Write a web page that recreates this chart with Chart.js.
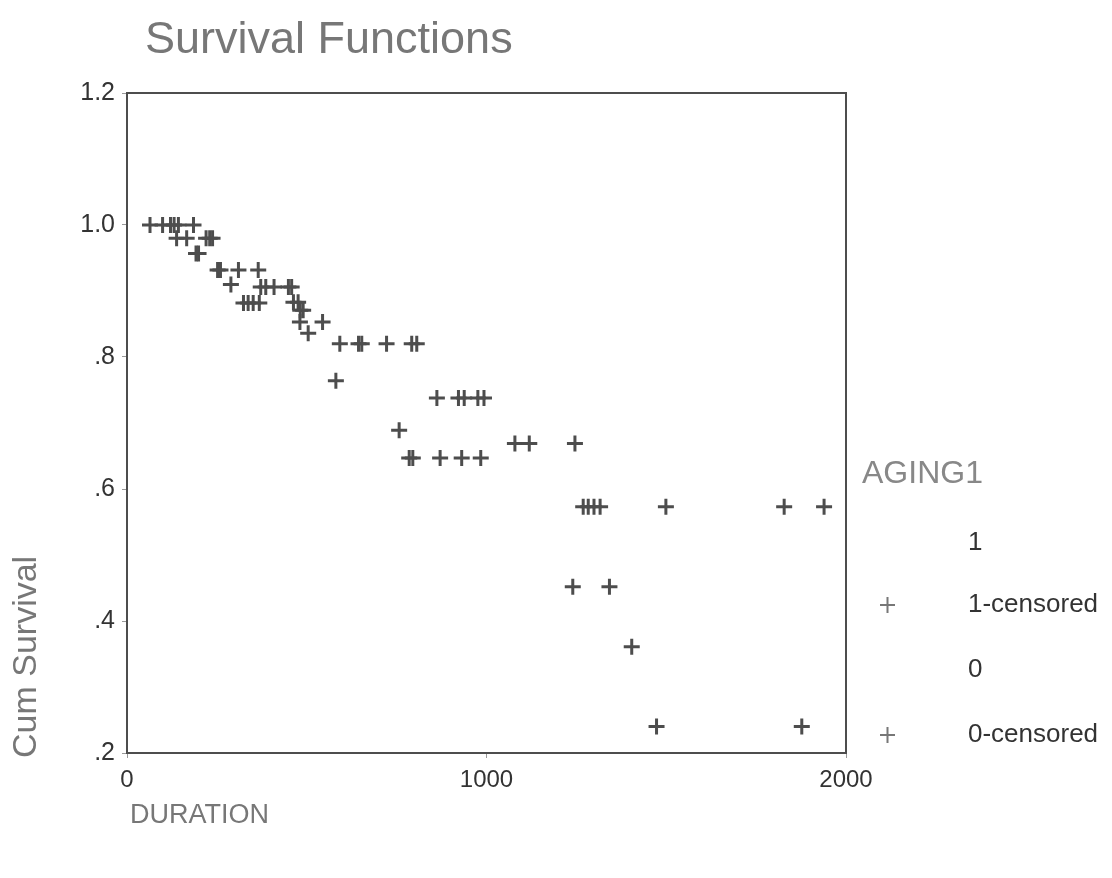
<!DOCTYPE html>
<html>
<head>
<meta charset="utf-8">
<script src="https://cdn.jsdelivr.net/npm/chart.js@4.4.1/dist/chart.umd.min.js"></script>
<style>
  html, body { margin: 0; padding: 0; background: #fff; }
  #wrap { width: 1112px; height: 878px; position: relative; }
</style>
</head>
<body>
<div id="wrap"><canvas id="grafico" width="1112" height="878"></canvas></div>
<script>
// censored observations, AGING1 = 1
const cens1Dur = [64, 99, 121, 131, 143, 185, 138, 166, 220, 230, 238, 192, 199, 252, 260, 310, 365,
  372, 386, 409, 449, 458, 463, 476, 481, 544, 592, 644, 653, 722, 792, 806,
  862, 922, 938, 976, 993, 1079, 1119, 1246, 1269, 1283, 1299, 1316, 1499, 1828, 1939];
const cens1Surv = [1.0, 1.0, 1.0, 1.0, 1.0, 1.0, 0.98, 0.98, 0.98, 0.98, 0.98, 0.957, 0.957, 0.932, 0.932, 0.932, 0.932,
  0.906, 0.906, 0.906, 0.906, 0.906, 0.883, 0.883, 0.853, 0.853, 0.82, 0.82, 0.82, 0.82, 0.82, 0.82,
  0.738, 0.738, 0.738, 0.738, 0.738, 0.669, 0.669, 0.669, 0.573, 0.573, 0.573, 0.573, 0.573, 0.573, 0.573];

// censored observations, AGING1 = 0
const cens0Dur = [289, 324, 337, 351, 368, 482, 490, 504, 581, 757, 785, 795, 871, 931, 984, 1240, 1342, 1404, 1473, 1877];
const cens0Surv = [0.91, 0.882, 0.882, 0.882, 0.882, 0.871, 0.871, 0.836, 0.764, 0.689, 0.647, 0.647, 0.647, 0.647, 0.647,
  0.452, 0.452, 0.361, 0.24, 0.24];

const xTicks = [0, 1000, 2000];
const yTicks = [0.2, 0.4, 0.6, 0.8, 1.0, 1.2];
const legendTitle = "AGING1";
const legendLabels = ["1", "1-censored", "0", "0-censored"];

const gris = "#4d4d4d";
const fuente = "'Liberation Sans', Arial, sans-serif";

function puntos(xs, ys) {
  return xs.map((x, i) => ({ x: x, y: ys[i] }));
}

function etiquetaY(v) {
  const r = Math.round(v * 10);
  if (r >= 10) return (r / 10).toFixed(1);
  return "." + r;
}

const extras = {
  id: "extras",
  afterDraw(chart) {
    const { ctx, chartArea: a } = chart;
    ctx.save();
    // marco
    ctx.strokeStyle = gris;
    ctx.lineWidth = 2;
    ctx.strokeRect(a.left, a.top, a.right - a.left, a.bottom - a.top);

    // titulo
    ctx.fillStyle = "#777";
    ctx.textBaseline = "alphabetic";
    ctx.textAlign = "left";
    ctx.font = "45px " + fuente;
    ctx.fillText("Survival Functions", 145, 53);

    // titulos de ejes
    ctx.font = "27px " + fuente;
    ctx.fillText("DURATION", 130, 823);
    ctx.save();
    ctx.translate(36, 758);
    ctx.rotate(-Math.PI / 2);
    ctx.font = "34px " + fuente;
    ctx.fillText("Cum Survival", 0, 0);
    ctx.restore();

    // leyenda
    ctx.fillStyle = "#888";
    ctx.font = "32px " + fuente;
    ctx.fillText(legendTitle, 862, 483);
    ctx.fillStyle = "#333";
    ctx.font = "26px " + fuente;
    ctx.textBaseline = "middle";
    const filas = [543, 605, 670, 735];
    legendLabels.forEach((t, i) => {
      ctx.fillText(t, 968, filas[i]);
      if (t.indexOf("censored") >= 0) {
        ctx.strokeStyle = "#777";
        ctx.lineWidth = 2;
        ctx.beginPath();
        ctx.moveTo(880, filas[i]); ctx.lineTo(895, filas[i]);
        ctx.moveTo(887.5, filas[i] - 8); ctx.lineTo(887.5, filas[i] + 8);
        ctx.stroke();
      }
    });
    ctx.restore();
  }
};

const estiloPunto = {
  showLine: false,
  pointStyle: "cross",
  pointRadius: 8,
  pointBorderWidth: 3,
  pointBorderColor: gris,
  pointBackgroundColor: gris,
  pointHoverRadius: 8
};

new Chart(document.getElementById("grafico"), {
  type: "scatter",
  data: {
    datasets: [
      Object.assign({ label: legendLabels[1], data: puntos(cens1Dur, cens1Surv) }, estiloPunto),
      Object.assign({ label: legendLabels[3], data: puntos(cens0Dur, cens0Surv) }, estiloPunto)
    ]
  },
  options: {
    responsive: false,
    animation: false,
    layout: { padding: { left: 0, right: 266, top: 93, bottom: 0 } },
    plugins: { legend: { display: false }, tooltip: { enabled: false }, title: { display: false } },
    scales: {
      x: {
        type: "linear",
        min: 0,
        max: 2000,
        afterFit: (s) => { s.height = 125; },
        afterBuildTicks: (s) => { s.ticks = xTicks.map((v) => ({ value: v })); },
        grid: { display: true, drawOnChartArea: false, drawTicks: true, tickLength: 5, color: "#999" },
        border: { display: false },
        ticks: { color: "#333", padding: 8, maxRotation: 0, callback: (v) => String(v), font: { size: 24, family: fuente } }
      },
      y: {
        type: "linear",
        min: 0.2,
        max: 1.2,
        afterFit: (s) => { s.width = 127; },
        afterBuildTicks: (s) => { s.ticks = yTicks.map((v) => ({ value: v })); },
        grid: { display: true, drawOnChartArea: false, drawTicks: true, tickLength: 5, color: "#999" },
        border: { display: false },
        ticks: { color: "#333", padding: 7, callback: (v) => etiquetaY(v), font: { size: 25, family: fuente } }
      }
    }
  },
  plugins: [extras]
});
</script>
</body>
</html>
